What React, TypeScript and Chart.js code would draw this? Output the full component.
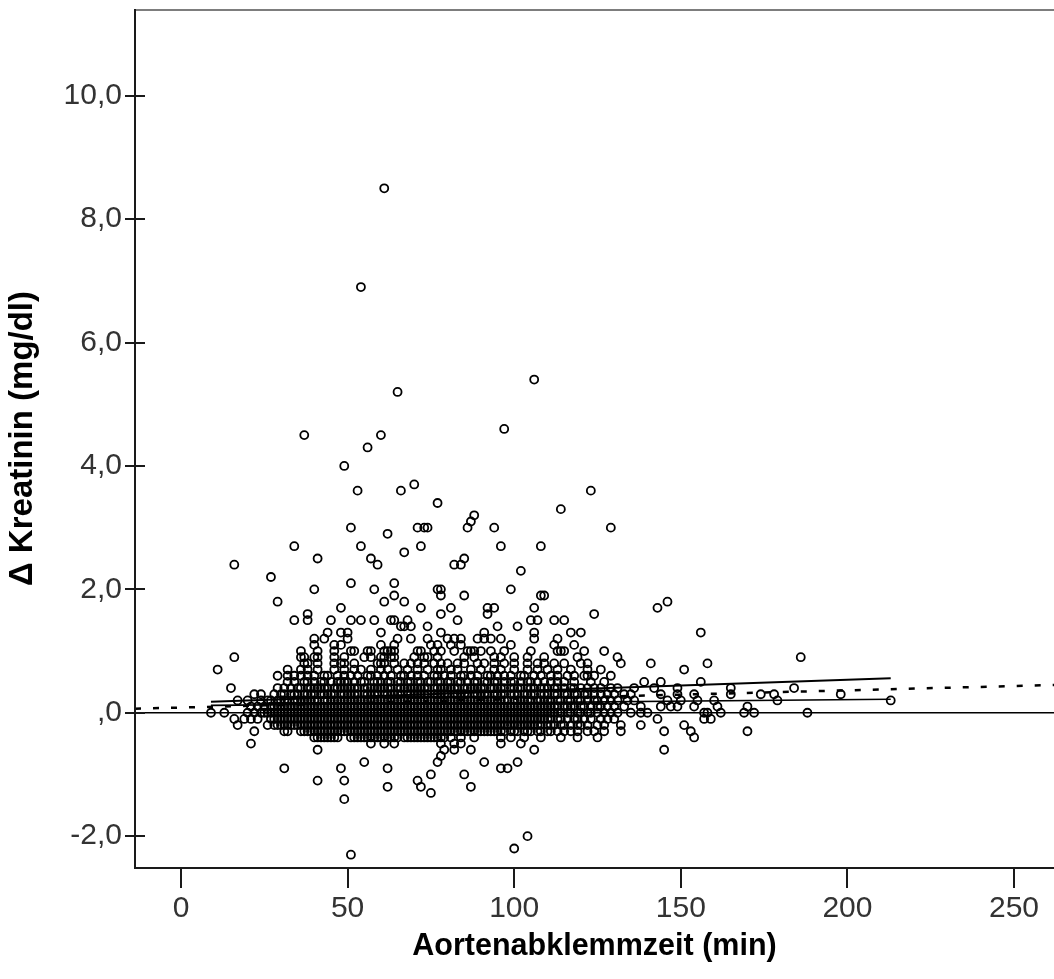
import React, { useEffect, useRef } from "react";
import { Chart, registerables } from "chart.js";

Chart.register(...registerables);

const FONT = "'Liberation Sans', Arial, Helvetica, sans-serif";

const X_TICKS = [0, 50, 100, 150, 200, 250];
const Y_TICKS = [-2, 0, 2, 4, 6, 8, 10];
const X_MIN = -13.8;
const X_MAX = 262;
const Y_MIN = -2.5;
const Y_MAX = 11.39;

const X_TITLE = "Aortenabklemmzeit (min)";
const Y_TITLE = "Δ Kreatinin (mg/dl)";

// isolated cases above the main band: [minutes, delta creatinine]
const HIGH_POINTS: [number, number][] = [
  [61, 8.5], [54, 6.9], [65, 5.2], [106, 5.4], [37, 4.5], [60, 4.5], [56, 4.3], [97, 4.6],
  [49, 4.0], [53, 3.6], [66, 3.6], [70, 3.7], [77, 3.4], [123, 3.6], [114, 3.3], [129, 3.0],
  [51, 3.0], [62, 2.9], [71, 3.0], [73, 3.0], [74, 3.0], [86, 3.0], [87, 3.1], [88, 3.2],
  [94, 3.0], [34, 2.7], [54, 2.7], [72, 2.7], [96, 2.7], [108, 2.7], [67, 2.6], [16, 2.4],
  [41, 2.5], [57, 2.5], [59, 2.4], [82, 2.4], [84, 2.4], [85, 2.5], [102, 2.3], [27, 2.2],
  [29, 1.8], [40, 2.0], [51, 2.1], [58, 2.0], [64, 2.1], [64, 1.9], [67, 1.8], [61, 1.8],
  [77, 2.0], [78, 2.0], [78, 1.9], [85, 1.9], [99, 2.0], [108, 1.9], [109, 1.9], [48, 1.7],
  [72, 1.7], [81, 1.7], [92, 1.7], [94, 1.7], [92, 1.6], [106, 1.7], [124, 1.6], [143, 1.7],
  [146, 1.8], [34, 1.5], [38, 1.6], [38, 1.5], [45, 1.5], [51, 1.5], [54, 1.5], [58, 1.5],
  [63, 1.5], [64, 1.5], [66, 1.4], [67, 1.4], [68, 1.5], [69, 1.4], [74, 1.4], [78, 1.6],
  [83, 1.5], [95, 1.4], [101, 1.4], [105, 1.5], [107, 1.5], [112, 1.5], [115, 1.5], [40, 1.2],
  [43, 1.2], [44, 1.3], [48, 1.3], [50, 1.3], [50, 1.2], [60, 1.3], [65, 1.2], [69, 1.2],
  [74, 1.2], [78, 1.3], [80, 1.2], [82, 1.2], [84, 1.2], [89, 1.2], [91, 1.3], [91, 1.2],
  [93, 1.2], [96, 1.2], [106, 1.3], [106, 1.2], [120, 1.3], [156, 1.3], [113, 1.2], [117, 1.3],
  [40, 1.1], [46, 1.1], [48, 1.1], [60, 1.1], [64, 1.1], [75, 1.1], [77, 1.1], [81, 1.1],
  [84, 1.1], [99, 1.1], [112, 1.1], [118, 1.1],
];

// isolated cases below the main band
const LOW_POINTS: [number, number][] = [
  [21, -0.5], [57, -0.5], [61, -0.5], [64, -0.5], [78, -0.5], [82, -0.5], [84, -0.5], [96, -0.5],
  [102, -0.5], [41, -0.6], [79, -0.6], [82, -0.6], [87, -0.6], [106, -0.6], [145, -0.6], [78, -0.7],
  [55, -0.8], [77, -0.8], [91, -0.8], [101, -0.8], [31, -0.9], [48, -0.9], [62, -0.9], [96, -0.9],
  [98, -0.9], [75, -1.0], [85, -1.0], [41, -1.1], [49, -1.1], [71, -1.1], [62, -1.2], [72, -1.2],
  [87, -1.2], [75, -1.3], [49, -1.4], [104, -2.0], [100, -2.2], [51, -2.3],
];

// main band: delta creatinine level (0.1 steps) and the minutes read along each row
const BAND_LEVELS = [1.0, 0.9, 0.8, 0.7, 0.6, 0.5, 0.4, 0.3, 0.2, 0.1, 0.0, -0.1, -0.2, -0.3, -0.4];
const BAND_ROWS: number[][] = [
  [36, 41, 46, 51, 52, 56, 57, 61, 62, 63, 64, 71, 72, 76, 78, 82, 86, 87, 88, 90, 93, 97, 105, 113, 114, 115, 121, 127],
  [16, 36, 37, 40, 41, 46, 49, 55, 57, 60, 61, 63, 64, 70, 73, 74, 77, 85, 88, 94, 96, 100, 104, 109, 119, 131, 186],
  [37, 38, 41, 46, 48, 49, 52, 59, 60, 61, 64, 67, 69, 71, 73, 76, 78, 80, 83, 85, 89, 91, 94, 97, 100, 104, 107, 109, 112, 115, 120, 122, 132, 141, 158],
  [11, 32, 36, 38, 41, 46, 49, 52, 54, 57, 60, 62, 65, 68, 71, 74, 77, 78, 81, 83, 87, 90, 94, 96, 100, 104, 107, 110, 113, 117, 122, 126, 151],
  [29, 32, 34, 36, 38, 40, 43, 44, 47, 49, 51, 53, 56, 57, 59, 61, 63, 66, 67, 69, 71, 73, 76, 77, 79, 81, 84, 85, 87, 89, 92, 93, 95, 97, 99, 102, 103, 106, 108, 111, 113, 116, 118, 121, 122, 124, 129],
  [32, 34, 37, 38, 40, 42, 43, 45, 47, 48, 49, 50, 52, 54, 55, 58, 59, 60, 62, 63, 65, 66, 68, 69, 71, 72, 74, 75, 77, 78, 80, 81, 83, 84, 86, 88, 89, 91, 92, 94, 95, 97, 99, 100, 102, 104, 105, 107, 109, 111, 113, 115, 118, 123, 127, 139, 144, 156],
  [15, 29, 31, 33, 35, 36, 38, 39, 40, 41, 42, 43, 44, 46, 47, 48, 49, 50, 51, 52, 53, 55, 56, 57, 58, 59, 60, 61, 62, 63, 65, 66, 67, 68, 69, 70, 71, 72, 73, 74, 76, 77, 78, 79, 80, 81, 82, 83, 85, 86, 87, 88, 89, 90, 91, 93, 94, 95, 96, 97, 99, 100, 101, 102, 104, 105, 106, 108, 109, 110, 112, 113, 115, 117, 118, 120, 122, 124, 126, 129, 131, 136, 142, 149, 165, 184],
  [22, 24, 28, 30, 31, 33, 34, 35, 37, 38, 39, 40, 42, 43, 44, 45, 46, 48, 49, 50, 51, 52, 53, 55, 56, 57, 58, 59, 61, 62, 63, 64, 65, 66, 68, 69, 70, 71, 72, 73, 74, 76, 77, 78, 79, 80, 82, 83, 84, 85, 86, 88, 89, 90, 91, 92, 94, 95, 96, 97, 99, 100, 101, 103, 104, 105, 106, 108, 109, 110, 112, 113, 115, 116, 118, 119, 121, 122, 124, 126, 128, 130, 133, 135, 144, 149, 154, 165, 174, 178, 198],
  [17, 20, 24, 26, 27, 29, 30, 31, 32, 34, 35, 36, 37, 38, 39, 40, 41, 43, 44, 45, 46, 47, 48, 49, 50, 51, 52, 53, 54, 55, 56, 57, 58, 59, 60, 61, 62, 63, 64, 65, 66, 67, 68, 69, 70, 71, 72, 73, 74, 75, 76, 77, 78, 79, 80, 81, 82, 83, 84, 85, 86, 87, 88, 89, 90, 91, 92, 93, 94, 95, 96, 97, 98, 100, 101, 102, 103, 104, 105, 107, 108, 109, 110, 111, 113, 114, 116, 117, 119, 120, 122, 124, 125, 127, 129, 131, 134, 136, 146, 150, 155, 160, 179, 213],
  [21, 23, 25, 27, 28, 29, 30, 31, 32, 33, 34, 35, 36, 37, 38, 39, 40, 41, 42, 43, 44, 45, 46, 47, 48, 49, 50, 51, 52, 53, 54, 55, 56, 57, 58, 59, 60, 61, 62, 63, 64, 65, 66, 67, 68, 69, 70, 71, 72, 73, 74, 75, 76, 77, 78, 79, 80, 81, 82, 83, 84, 85, 86, 87, 88, 89, 90, 91, 92, 93, 94, 95, 96, 97, 98, 99, 100, 101, 102, 103, 104, 105, 106, 107, 108, 109, 110, 111, 112, 113, 115, 116, 117, 118, 120, 121, 123, 125, 126, 128, 130, 133, 138, 144, 147, 149, 154, 161, 170],
  [9, 13, 20, 22, 24, 25, 26, 27, 28, 29, 30, 31, 32, 33, 34, 35, 36, 37, 38, 39, 40, 41, 42, 43, 44, 45, 46, 47, 48, 49, 50, 51, 52, 53, 54, 55, 56, 57, 58, 59, 60, 61, 62, 63, 64, 65, 66, 67, 68, 69, 70, 71, 72, 73, 74, 75, 76, 77, 78, 79, 80, 81, 82, 83, 84, 85, 86, 87, 88, 89, 90, 91, 92, 93, 94, 95, 96, 97, 98, 99, 100, 101, 102, 103, 104, 105, 106, 107, 108, 109, 110, 111, 112, 113, 114, 116, 117, 119, 120, 122, 123, 125, 127, 129, 131, 135, 138, 140, 157, 158, 162, 169, 172, 188],
  [16, 19, 21, 23, 27, 28, 29, 30, 31, 32, 33, 34, 35, 36, 37, 38, 39, 40, 41, 42, 43, 44, 45, 46, 47, 48, 49, 50, 51, 52, 53, 54, 55, 56, 57, 58, 59, 60, 61, 62, 63, 64, 65, 66, 67, 68, 69, 70, 71, 72, 73, 74, 75, 76, 77, 78, 79, 80, 81, 82, 83, 84, 85, 86, 87, 88, 89, 90, 91, 92, 93, 94, 95, 96, 97, 98, 99, 100, 101, 102, 103, 104, 105, 106, 107, 108, 109, 110, 111, 113, 114, 116, 118, 119, 121, 123, 126, 128, 130, 143, 157, 159],
  [17, 26, 28, 29, 30, 31, 32, 33, 34, 35, 36, 37, 38, 39, 40, 41, 42, 43, 44, 45, 46, 47, 48, 49, 50, 51, 52, 53, 54, 55, 56, 57, 58, 59, 60, 61, 62, 63, 64, 65, 66, 67, 68, 69, 70, 71, 72, 73, 74, 75, 76, 77, 78, 79, 80, 81, 82, 83, 84, 85, 86, 87, 88, 89, 90, 91, 92, 93, 94, 95, 96, 97, 98, 99, 100, 101, 102, 103, 104, 105, 106, 107, 108, 110, 111, 112, 114, 115, 117, 119, 120, 122, 125, 127, 132, 138, 151],
  [22, 31, 32, 36, 37, 38, 39, 40, 41, 42, 43, 44, 45, 46, 47, 48, 49, 50, 51, 52, 53, 54, 55, 56, 57, 58, 59, 60, 61, 62, 63, 64, 65, 66, 67, 68, 69, 70, 71, 72, 73, 74, 75, 76, 77, 78, 79, 80, 81, 82, 83, 84, 85, 86, 87, 88, 89, 90, 91, 92, 93, 94, 95, 96, 97, 99, 100, 101, 103, 104, 105, 107, 108, 110, 111, 113, 115, 117, 119, 122, 124, 127, 132, 145, 153, 170],
  [40, 41, 42, 43, 44, 45, 46, 47, 51, 52, 53, 54, 55, 56, 57, 58, 59, 60, 61, 62, 63, 64, 65, 67, 68, 69, 70, 71, 72, 73, 74, 75, 76, 77, 78, 79, 81, 84, 88, 96, 99, 103, 108, 114, 119, 125, 154],
];

// reference line and fitted lines (endpoints)
const ZERO_X = [X_MIN, X_MAX];
const ZERO_Y = [0, 0];
const FIT_X = [X_MIN, X_MAX];
const FIT_Y = [0.065, 0.45];
const UPPER_X = [9, 213];
const UPPER_Y = [0.18, 0.56];
const LOWER_X = [9, 213];
const LOWER_Y = [0.12, 0.22];

const toXY = (xs: number[], ys: number[]) => xs.map((x, i) => ({ x, y: ys[i] }));

const clearPadding = (s: any) => {
  s.paddingTop = 0;
  s.paddingBottom = 0;
  s.paddingLeft = 0;
  s.paddingRight = 0;
};

const axisPlugin = {
  id: "spssAxes",
  afterDatasetsDraw(chart: any) {
    const { ctx, chartArea, scales } = chart;
    const { left, right, top, bottom } = chartArea;
    ctx.save();
    // top frame line (grey)
    ctx.strokeStyle = "#7d7d7d";
    ctx.lineWidth = 2;
    ctx.beginPath();
    ctx.moveTo(left, top);
    ctx.lineTo(right, top);
    ctx.stroke();
    // left and bottom axis lines
    ctx.strokeStyle = "#1a1a1a";
    ctx.lineWidth = 2;
    ctx.beginPath();
    ctx.moveTo(left, top - 1);
    ctx.lineTo(left, bottom + 1);
    ctx.lineTo(right, bottom + 1);
    ctx.stroke();
    // y tick marks crossing the axis
    ctx.lineWidth = 2;
    scales.y.ticks.forEach((t: any) => {
      const py = Math.round(scales.y.getPixelForValue(t.value));
      ctx.beginPath();
      ctx.moveTo(left - 10, py);
      ctx.lineTo(left + 10, py);
      ctx.stroke();
    });
    // x tick marks below the axis
    scales.x.ticks.forEach((t: any) => {
      const px = Math.round(scales.x.getPixelForValue(t.value));
      ctx.beginPath();
      ctx.moveTo(px, bottom + 1);
      ctx.lineTo(px, bottom + 21);
      ctx.stroke();
    });
    ctx.restore();
  },
};

export default function App() {
  const canvasRef = useRef<HTMLCanvasElement | null>(null);

  useEffect(() => {
    document.body.style.margin = "0";
    document.body.style.overflow = "hidden";
    const canvas = canvasRef.current;
    if (!canvas) return;

    const points: { x: number; y: number }[] = [];
    HIGH_POINTS.forEach(([x, y]) => points.push({ x, y }));
    LOW_POINTS.forEach(([x, y]) => points.push({ x, y }));
    BAND_LEVELS.forEach((level, i) => {
      BAND_ROWS[i].forEach((x) => points.push({ x, y: level }));
    });

    const lineBase = {
      showLine: true,
      pointRadius: 0,
      fill: false,
      borderColor: "#000",
      tension: 0,
    };

    const chart = new Chart(canvas, {
      type: "scatter",
      data: {
        datasets: [
          { ...lineBase, label: "null", data: toXY(ZERO_X, ZERO_Y), borderWidth: 1.5, order: 0 },
          { ...lineBase, label: "fit", data: toXY(FIT_X, FIT_Y), borderWidth: 2.5, borderDash: [6, 12], order: 0 },
          { ...lineBase, label: "upper", data: toXY(UPPER_X, UPPER_Y), borderWidth: 2, order: 0 },
          { ...lineBase, label: "lower", data: toXY(LOWER_X, LOWER_Y), borderWidth: 1.6, order: 0 },
          {
            label: "cases",
            data: points,
            pointStyle: "circle",
            pointRadius: 4,
            pointBorderWidth: 1.8,
            pointBorderColor: "#000",
            pointBackgroundColor: "rgba(0,0,0,0)",
            borderColor: "#000",
            backgroundColor: "rgba(0,0,0,0)",
            showLine: false,
            order: 1,
          } as any,
        ],
      },
      options: {
        responsive: false,
        animation: false,
        events: [],
        layout: { autoPadding: false, padding: { top: 10, right: 0, left: 0, bottom: 0 } },
        plugins: { legend: { display: false }, tooltip: { enabled: false }, title: { display: false } },
        scales: {
          x: {
            type: "linear",
            min: X_MIN,
            max: X_MAX,
            afterBuildTicks: (s: any) => {
              s.ticks = X_TICKS.map((v) => ({ value: v }));
            },
            afterFit: (s: any) => {
              s.height = 112;
              clearPadding(s);
            },
            grid: { display: false, drawTicks: false },
            border: { display: false },
            ticks: {
              padding: 24,
              color: "#333",
              autoSkip: false,
              maxRotation: 0,
              font: { family: FONT, size: 30 },
              callback: (v: any) => String(v),
            },
            title: {
              display: true,
              text: X_TITLE,
              color: "#000",
              font: { family: FONT, size: 30.5, weight: "bold" },
              padding: { top: 0, bottom: 14 },
            },
          },
          y: {
            type: "linear",
            min: Y_MIN,
            max: Y_MAX,
            afterBuildTicks: (s: any) => {
              s.ticks = Y_TICKS.map((v) => ({ value: v }));
            },
            afterFit: (s: any) => {
              s.width = 135;
              clearPadding(s);
            },
            grid: { display: false, drawTicks: false },
            border: { display: false },
            ticks: {
              padding: 13,
              color: "#333",
              autoSkip: false,
              font: { family: FONT, size: 30 },
              callback: (v: any) => (v === 0 ? ",0" : Number(v).toFixed(1).replace(".", ",")),
            },
            title: {
              display: true,
              text: Y_TITLE,
              color: "#000",
              font: { family: FONT, size: 33, weight: "bold" },
              padding: { top: 3, bottom: 0 },
            },
          },
        },
      },
      plugins: [axisPlugin],
    });

    return () => chart.destroy();
  }, []);

  return (
    <div style={{ width: 1054, height: 979, overflow: "hidden" }}>
      <canvas ref={canvasRef} width={1054} height={979} style={{ display: "block" }} />
    </div>
  );
}
